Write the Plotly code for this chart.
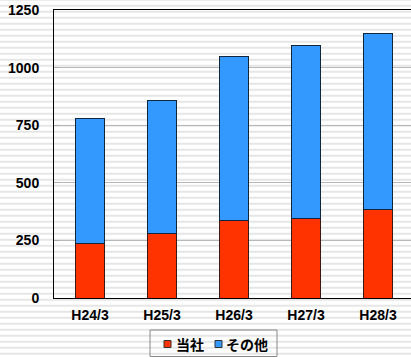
import plotly.graph_objects as go

categories = ["H24/3", "H25/3", "H26/3", "H27/3", "H28/3"]
tosha = [237, 281, 338, 347, 382]
sonota = [541, 577, 711, 751, 767]
y_ticks = [0, 250, 500, 750, 1000, 1250]
series_names = ["当社", "その他"]
series_colors = ["#FF3300", "#3399FF"]

W, H = 411, 357
ML, MR, MT, MB = 54, 0, 10, 59
plot_h = H - MT - MB
plot_w = W - ML - MR

def px_x(p):
    return (p - ML) / plot_w

def px_y(p):
    return (H - MB - p) / plot_h

fig = go.Figure()
fig.add_trace(go.Bar(
    x=categories, y=tosha, name=series_names[0], showlegend=False,
    marker=dict(color=series_colors[0], line=dict(color="#3a1a10", width=1)),
))
fig.add_trace(go.Bar(
    x=categories, y=sonota, name=series_names[1], showlegend=False,
    marker=dict(color=series_colors[1], line=dict(color="#10263f", width=1)),
))

# striped background (decoration)
shapes = []
py = 4.7 - 6 * 2
while py < H + 6:
    shapes.append(dict(type="rect", xref="paper", yref="paper",
                       x0=-1, x1=2, y0=px_y(py + 2), y1=px_y(py),
                       fillcolor="#e6e6e6", line=dict(width=0), layer="below"))
    py += 6

# legend frame and swatches (decoration)
shapes.append(dict(type="rect", xref="paper", yref="paper",
                   x0=px_x(150), x1=px_x(277), y0=px_y(356.5), y1=px_y(330),
                   fillcolor="rgba(0,0,0,0)", line=dict(color="#888", width=1), layer="below"))
legend_sw_x = [164, 215]
legend_tx_x = [174, 224]
for sx, col in zip(legend_sw_x, series_colors):
    shapes.append(dict(type="rect", xref="paper", yref="paper",
                       x0=px_x(sx), x1=px_x(sx + 7), y0=px_y(347.5), y1=px_y(340.5),
                       fillcolor=col, line=dict(color="#333", width=1), layer="below"))

annotations = [dict(
    text=n, xref="paper", yref="paper", x=px_x(tx), xanchor="left",
    y=px_y(344), yanchor="middle", showarrow=False,
    font=dict(family="Noto Sans CJK JP, Liberation Sans", size=14, color="#000", weight="bold"),
) for n, tx in zip(series_names, legend_tx_x)]

num_font = dict(family="Liberation Sans, Arial", size=14, color="#000", weight="bold")

fig.update_layout(
    width=W, height=H,
    margin=dict(l=ML, r=MR, t=MT, b=MB, pad=0, autoexpand=False),
    barmode="stack", bargap=0.6,
    paper_bgcolor="white", plot_bgcolor="rgba(0,0,0,0)",
    shapes=shapes,
    font=num_font,
    showlegend=False,
    annotations=annotations,
    xaxis=dict(range=[-0.5, 4.458], showline=True, linecolor="#000", linewidth=1,
               mirror=True, ticks="", showgrid=False, automargin=False,
               tickfont=num_font, ticklabelstandoff=4),
    yaxis=dict(range=[0, 1250], tickvals=y_ticks, showline=True, linecolor="#000", linewidth=1,
               ticks="inside", ticklen=5, tickcolor="#aaa", automargin=False,
               showgrid=True, gridcolor="#b8b8b8", gridwidth=1,
               tickfont=num_font, ticklabelstandoff=11, zeroline=False),
)

fig.write_html("out.html", config={"displayModeBar": False},
               post_script="document.body.style.margin='0';document.body.style.overflow='hidden';")
